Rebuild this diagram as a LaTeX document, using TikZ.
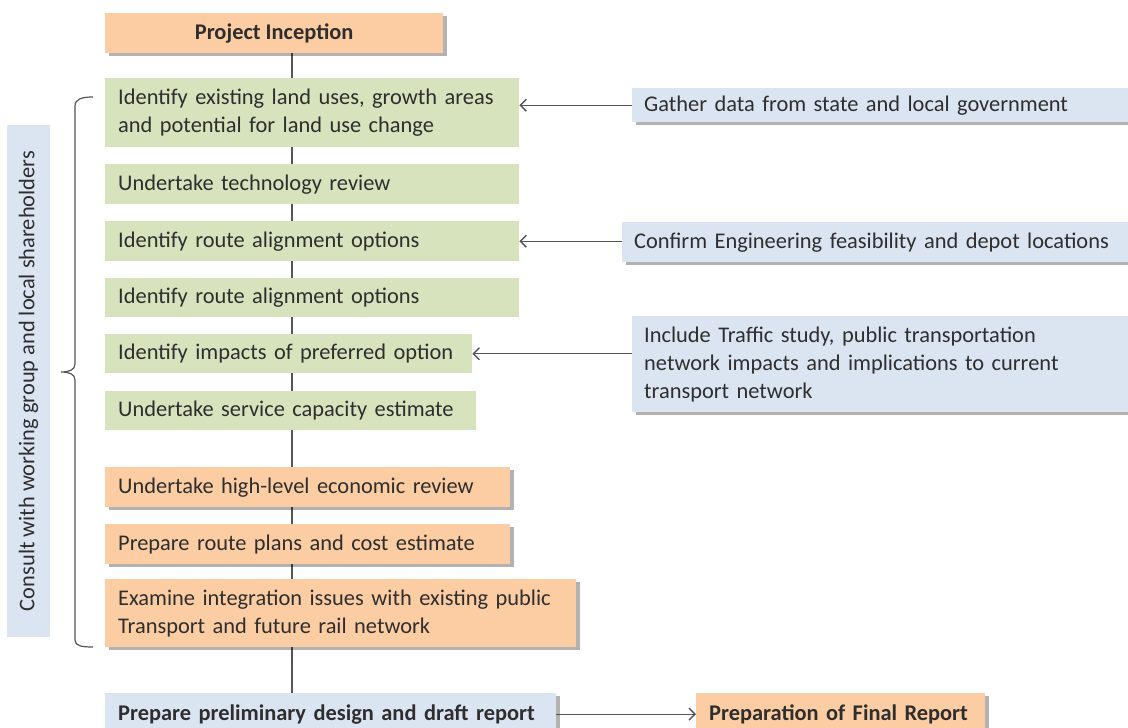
\documentclass[tikz,border=0pt]{standalone}
\usepackage{fontspec}
\setmainfont{Carlito}
\usetikzlibrary{shadows,arrows.meta,backgrounds}
\definecolor{orng}{HTML}{FCCCA2}
\definecolor{grn}{HTML}{D6E3BC}
\definecolor{blu}{HTML}{DBE5F1}
\definecolor{ink}{HTML}{2E2E2E}
\definecolor{lin}{HTML}{555555}
\begin{document}
\begin{tikzpicture}[x=1pt,y=1pt,
  base/.style={anchor=north west, inner xsep=13pt, inner ysep=0pt, align=left,
    font=\fontsize{22.4}{28}\selectfont, text=ink},
  shad/.style={drop shadow={shadow xshift=3.5pt,shadow yshift=-3pt,fill=black,opacity=0.3}},
  gbox/.style={base, fill=grn},
  obox/.style={base, fill=orng, shad},
  bbox/.style={base, fill=blu, shad},
  conn/.style={draw=lin, line width=1.4pt},
  arr/.style={conn, -{Straight Barb[length=6pt,width=12pt]}}]
\useasboundingbox (0,0) rectangle (1128,-728);
\begin{scope}[on background layer]
\fill[white] (0,0) rectangle (1128,-728);
\end{scope}

% main column
\node[obox, minimum width=338pt, minimum height=40pt, align=center] (inc) at (105,-13) {\textbf{Project Inception}};
\node[gbox, text width=388pt, minimum height=69pt] (b1) at (105,-78) {Identify existing land uses, growth areas\\and potential for land use change};
\node[gbox, text width=388pt, minimum height=40pt] (b2) at (105,-164) {Undertake technology review};
\node[gbox, text width=388pt, minimum height=40pt] (b3) at (105,-221) {Identify route alignment options};
\node[gbox, text width=388pt, minimum height=39pt] (b4) at (105,-278) {Identify route alignment options};
\node[gbox, text width=341pt, minimum height=39pt] (b5) at (105,-334) {Identify impacts of preferred option};
\node[gbox, text width=345pt, minimum height=39pt] (b6) at (105,-391) {Undertake service capacity estimate};
\node[obox, text width=379pt, minimum height=40pt] (b7) at (105,-467) {Undertake high-level economic review};
\node[obox, text width=379pt, minimum height=40pt] (b8) at (105,-524) {Prepare route plans and cost estimate};
\node[obox, text width=445pt, minimum height=68pt] (b9) at (105,-579) {Examine integration issues with existing public\\Transport and future rail network};
\node[bbox, text width=425pt, minimum height=42pt, font=\fontsize{22.4}{28}\selectfont\bfseries] (pre) at (105,-693) {Prepare preliminary design and draft report};
\node[obox, text width=263pt, minimum height=42pt, font=\fontsize{22.4}{28}\selectfont\bfseries] (fin) at (696,-693) {Preparation of Final Report};

% right inputs
\node[bbox, inner xsep=12pt, text width=480pt, minimum height=34pt] (gat) at (632,-88) {Gather data from state and local government};
\node[bbox, inner xsep=12pt, text width=490pt, minimum height=40pt] (con) at (622,-222) {Confirm Engineering feasibility and depot locations};
\node[bbox, inner xsep=12pt, text width=480pt, minimum height=96pt] (inl) at (632,-316) {Include Traffic study, public transportation\\network impacts and implications to current\\transport network};

% left label
\node[fill=blu, minimum width=43pt, minimum height=512pt, inner sep=0pt] (lab) at (28.5,-381) {};
\node[rotate=90, text=ink, font=\fontsize{22.4}{28}\selectfont] (labt) at (lab.center) {Consult with working group and local shareholders};

% connectors
\coordinate (lx) at (292,0);
\begin{scope}[on background layer]
\draw[conn] (inc.south -| lx) -- (pre.north -| lx);
\end{scope}
\draw[arr] (gat.west) -- (gat.west -| b1.east);
\draw[arr] (b3.east -| con.west) -- (b3.east);
\draw[arr] (b5.east -| inl.west) -- (b5.east);
\draw[arr] (pre.east) -- (fin.west);

% brace
\draw[conn, line width=1.2pt] (93,-97) .. controls (82,-97) and (75,-99) .. (75,-106)
  -- (75,-364) .. controls (75,-370) and (69,-372) .. (61,-372)
  .. controls (69,-372) and (75,-374) .. (75,-380)
  -- (75,-640) .. controls (75,-646) and (82,-647) .. (93,-647);
\end{tikzpicture}
\end{document}
